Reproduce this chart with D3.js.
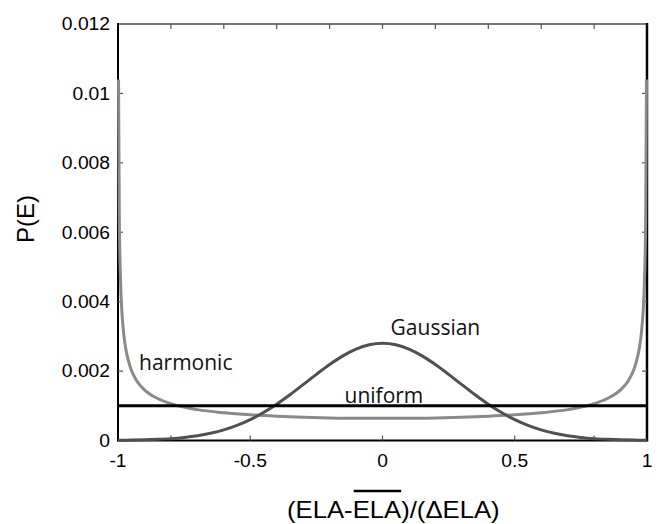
<!DOCTYPE html>
<html>
<head>
<meta charset="utf-8">
<script src="https://cdn.jsdelivr.net/npm/d3@7"></script>
<style>
  body { margin: 0; background: #fff; }
  svg { display: block; }
</style>
</head>
<body>
<svg id="chart" width="666" height="524"></svg>
<script>
// Probability of each ELA bin for the three climate forcings.
const harmonicX = [-0.998, -0.995, -0.99, -0.98, -0.97, -0.96, -0.95, -0.93, -0.9, -0.85, -0.8, -0.7, -0.6, -0.5, -0.4, -0.3, -0.2, -0.1, 0,
                   0.1, 0.2, 0.3, 0.4, 0.5, 0.6, 0.7, 0.8, 0.85, 0.9, 0.93, 0.95, 0.96, 0.97, 0.98, 0.99, 0.995, 0.998];
const harmonicP = [0.0104, 0.00638, 0.00452, 0.00320, 0.00262, 0.00228, 0.00204, 0.00173, 0.00146, 0.00121, 0.00106, 0.00089, 0.00080, 0.00074, 0.00070, 0.00067, 0.00065, 0.00064, 0.00064,
                   0.00064, 0.00065, 0.00067, 0.00070, 0.00074, 0.00080, 0.00089, 0.00106, 0.00121, 0.00146, 0.00173, 0.00204, 0.00228, 0.00262, 0.00320, 0.00452, 0.00638, 0.0104];

const gaussX = [-1, -0.95, -0.9, -0.85, -0.8, -0.75, -0.7, -0.65, -0.6, -0.55, -0.5, -0.45, -0.4, -0.35, -0.3, -0.25, -0.2, -0.15, -0.1, -0.05, 0,
                0.05, 0.1, 0.15, 0.2, 0.25, 0.3, 0.35, 0.4, 0.45, 0.5, 0.55, 0.6, 0.65, 0.7, 0.75, 0.8, 0.85, 0.9, 0.95, 1];
const gaussP = [0.000006, 0.000011, 0.000019, 0.000033, 0.000054, 0.000088, 0.000137, 0.000208, 0.000305, 0.000435, 0.000601, 0.000805, 0.001045, 0.001317, 0.001609, 0.001905, 0.002189, 0.002438, 0.002633, 0.002757, 0.0028,
                0.002757, 0.002633, 0.002438, 0.002189, 0.001905, 0.001609, 0.001317, 0.001045, 0.000805, 0.000601, 0.000435, 0.000305, 0.000208, 0.000137, 0.000088, 0.000054, 0.000033, 0.000019, 0.000011, 0.000006];

const uniformX = [-1, 1];
const uniformP = [0.001, 0.001];

const xTickValues = [-1, -0.5, 0, 0.5, 1];
const xTickLabels = ["-1", "-0.5", "0", "0.5", "1"];
const topMarkValues = [-0.8, -0.6, -0.4, -0.2, 0, 0.2, 0.4, 0.6, 0.8];
const bottomMarkValues = [-0.8, -0.5, 0, 0.5, 0.8];
const yTickValues = [0, 0.002, 0.004, 0.006, 0.008, 0.01, 0.012];
const yTickLabels = ["0", "0.002", "0.004", "0.006", "0.008", "0.01", "0.012"];

const seriesLabels = [
  { text: "harmonic", x: -0.9205, y: 0.00203 },
  { text: "Gaussian", x: 0.0305, y: 0.00304 },
  { text: "uniform", x: -0.1435, y: 0.00109 }
];

const svg = d3.select("#chart");
const plotLeft = 118, plotRight = 647, plotTop = 24, plotBottom = 440.5;

const x = d3.scaleLinear().domain([-1, 1]).range([plotLeft, plotRight]);
const y = d3.scaleLinear().domain([0, 0.012]).range([plotBottom, plotTop]);

const tickFont = "'Liberation Sans', Arial, Helvetica, sans-serif";
const labelFont = "'Open Sans', 'Noto Sans', sans-serif";
const stretch = 1.07;

// Frame: black left/bottom/right, grey top
const frame = svg.append("g");
frame.append("line").attr("x1", plotLeft).attr("x2", plotRight).attr("y1", plotTop).attr("y2", plotTop)
  .attr("stroke", "#777").attr("stroke-width", 2);
frame.append("line").attr("x1", plotLeft).attr("x2", plotLeft).attr("y1", plotTop - 1).attr("y2", plotBottom + 1)
  .attr("stroke", "#000").attr("stroke-width", 2);
frame.append("line").attr("x1", plotRight).attr("x2", plotRight).attr("y1", plotTop - 1).attr("y2", plotBottom + 1)
  .attr("stroke", "#000").attr("stroke-width", 2.5);
frame.append("line").attr("x1", plotLeft).attr("x2", plotRight).attr("y1", plotBottom).attr("y2", plotBottom)
  .attr("stroke", "#000").attr("stroke-width", 2);

// Inward tick marks on all four sides
const tk = 5;
const ticks = svg.append("g").attr("stroke", "#555").attr("stroke-width", 1.2);
topMarkValues.forEach(v => {
  ticks.append("line").attr("x1", x(v)).attr("x2", x(v)).attr("y1", plotTop).attr("y2", plotTop + tk);
});
bottomMarkValues.forEach(v => {
  ticks.append("line").attr("x1", x(v)).attr("x2", x(v)).attr("y1", plotBottom).attr("y2", plotBottom - tk);
});
yTickValues.slice(1, -1).forEach(v => {
  ticks.append("line").attr("x1", plotLeft).attr("x2", plotLeft + tk).attr("y1", y(v)).attr("y2", y(v));
  ticks.append("line").attr("x1", plotRight).attr("x2", plotRight - tk).attr("y1", y(v)).attr("y2", y(v));
});

// Tick labels
const yl = svg.append("g").attr("font-family", tickFont).attr("font-size", 18).attr("fill", "#000");
yTickValues.forEach((v, i) => {
  yl.append("text")
    .attr("transform", `translate(110,${y(v) + 6.3}) scale(${stretch},1)`)
    .attr("text-anchor", "end")
    .text(yTickLabels[i]);
});
const xl = svg.append("g").attr("font-family", tickFont).attr("font-size", 18).attr("fill", "#000");
xTickValues.forEach((v, i) => {
  xl.append("text")
    .attr("transform", `translate(${x(v)},467) scale(${stretch},1)`)
    .attr("text-anchor", "middle")
    .text(xTickLabels[i]);
});

// Axis titles
svg.append("text")
  .attr("transform", "translate(34,219) rotate(-90)")
  .attr("text-anchor", "middle")
  .attr("font-family", tickFont).attr("font-size", 24)
  .text("P(E)");

const titleX = 287, titleY = 518;
const xt = svg.append("text")
  .attr("transform", `translate(${titleX},${titleY}) scale(${stretch},1)`)
  .attr("text-anchor", "start")
  .attr("font-family", tickFont).attr("font-size", 24);
xt.append("tspan").text("(ELA-");
xt.append("tspan").text("ELA");
xt.append("tspan").text(")/(\u0394ELA)");
// Bar over the mean ELA
const node = xt.node();
const sx = node.getStartPositionOfChar(5).x;
const sw = node.getSubStringLength(5, 3);
svg.append("line")
  .attr("transform", `translate(${titleX},0) scale(${stretch},1)`)
  .attr("x1", sx + 1).attr("x2", sx + sw)
  .attr("y1", titleY - 27).attr("y2", titleY - 27)
  .attr("stroke", "#000").attr("stroke-width", 2.6);

// Curves
const line = d3.line().x(d => x(d[0])).y(d => y(d[1])).curve(d3.curveMonotoneX);
const curves = svg.append("g").attr("fill", "none").attr("stroke-linejoin", "round");
curves.append("path")
  .datum(harmonicX.map((v, i) => [v, harmonicP[i]]))
  .attr("d", line).attr("stroke", "#8a8a8a").attr("stroke-width", 3);
curves.append("path")
  .datum(gaussX.map((v, i) => [v, gaussP[i]]))
  .attr("d", line).attr("stroke", "#505050").attr("stroke-width", 3);
curves.append("path")
  .datum(uniformX.map((v, i) => [v, uniformP[i]]))
  .attr("d", d3.line().x(d => x(d[0])).y(d => y(d[1]))).attr("stroke", "#000").attr("stroke-width", 3);

// Series labels
svg.append("g").attr("font-family", labelFont).attr("font-size", 21).attr("fill", "#111")
  .selectAll("text").data(seriesLabels).join("text")
  .attr("x", d => x(d.x)).attr("y", d => y(d.y))
  .text(d => d.text);
</script>
</body>
</html>
